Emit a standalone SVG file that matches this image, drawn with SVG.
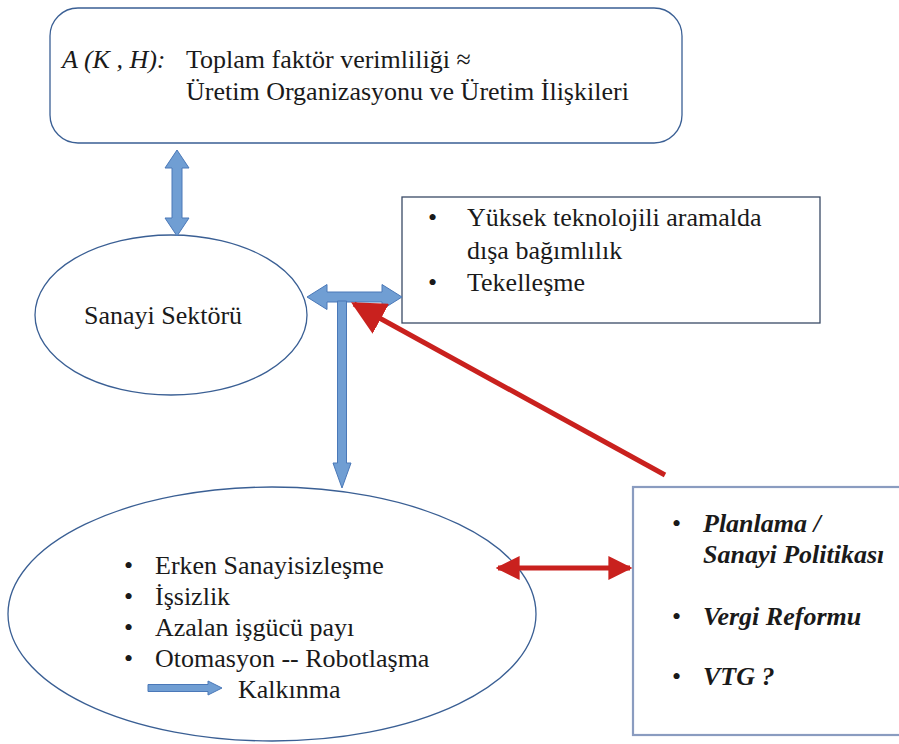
<svg xmlns="http://www.w3.org/2000/svg" width="899" height="744" viewBox="0 0 899 744">
<defs>
<style>
.t{font-family:"Times New Roman",Tinos,"Liberation Serif","Noto Serif",FreeSerif,"DejaVu Serif",serif;font-size:26px;fill:#1a1a1a}
.it{font-style:italic}
.bi{font-style:italic;font-weight:bold}
.node{fill:#fff;stroke:#3a5f94;stroke-width:1.3}
.box2{fill:#fff;stroke:#3a4a66;stroke-width:1.3}
.box3{fill:#fff;stroke:#8a9cc0;stroke-width:2.2}
.blue{fill:#709ed3;stroke:#4a78b8;stroke-width:1}
.red{stroke:#c9211e;stroke-width:5;fill:none}
</style>
<marker id="rh" viewBox="0 0 10 10" refX="9" refY="5" markerUnits="userSpaceOnUse" markerWidth="24" markerHeight="24" orient="auto-start-reverse">
<path d="M0,0 L10,5 L0,10 z" fill="#c9211e"/>
</marker>
<marker id="rhb" viewBox="0 0 10 10" refX="9" refY="5" markerUnits="userSpaceOnUse" markerWidth="34" markerHeight="34" orient="auto">
<path d="M0,0 L10,5 L0,10 z" fill="#c9211e"/>
</marker>
</defs>
<rect width="899" height="744" fill="#fff"/>

<g id="tfp">
<rect class="node" x="50" y="8" width="632" height="135" rx="28"/>
<text class="t it" x="62" y="68">A (K , H):</text>
<text class="t" x="186" y="68">Toplam faktör verimliliği ≈</text>
<text class="t" x="186" y="100">Üretim Organizasyonu ve Üretim İlişkileri</text>
</g>

<g id="sanayi">
<ellipse class="node" cx="171" cy="315" rx="136" ry="80"/>
<text class="t" x="163" y="324" text-anchor="middle">Sanayi Sektörü</text>
</g>

<g id="sorunlar">
<rect class="box2" x="402" y="197" width="418" height="126"/>
<text class="t" x="428" y="226">•</text>
<text class="t" x="467" y="226">Yüksek teknolojili aramalda</text>
<text class="t" x="467" y="259">dışa bağımlılık</text>
<text class="t" x="428" y="291">•</text>
<text class="t" x="467" y="291">Tekelleşme</text>
</g>

<g id="sonuclar">
<ellipse class="node" cx="272" cy="614" rx="264" ry="127"/>
<text class="t" x="124" y="574">•</text>
<text class="t" x="155" y="574">Erken Sanayisizleşme</text>
<text class="t" x="124" y="605">•</text>
<text class="t" x="155" y="605">İşsizlik</text>
<text class="t" x="124" y="636">•</text>
<text class="t" x="155" y="636">Azalan işgücü payı</text>
<text class="t" x="124" y="667">•</text>
<text class="t" x="155" y="667">Otomasyon -- Robotlaşma</text>
<polygon class="blue" points="148,684.5 208,684.5 208,681 222,688 208,695 208,691.5 148,691.5"/>
<text class="t" x="238" y="698">Kalkınma</text>
</g>

<g id="politika">
<rect class="box3" x="633" y="487" width="280" height="248"/>
<text class="t" x="672" y="532">•</text>
<text class="t bi" x="703" y="532">Planlama /</text>
<text class="t bi" x="703" y="563">Sanayi Politikası</text>
<text class="t" x="672" y="625">•</text>
<text class="t bi" x="703" y="625">Vergi Reformu</text>
<text class="t" x="672" y="685">•</text>
<text class="t bi" x="703" y="685">VTG ?</text>
</g>

<g id="connectors">
<polygon class="blue" points="177,150 189,168 182,168 182,218 189,218 177,236 165,218 172,218 172,168 165,168"/>
<polygon class="blue" points="307,297 327,284.5 327,292 382,292 382,284.5 402,297 382,309.5 382,302 327,302 327,309.5"/>
<polygon class="blue" points="337.5,301 346.5,301 346.5,463 351,463 342,488 333,463 337.5,463"/>
<line class="red" x1="665" y1="475" x2="354" y2="304" marker-end="url(#rhb)"/>
<line class="red" x1="498" y1="568" x2="630" y2="568" marker-start="url(#rh)" marker-end="url(#rh)"/>
</g>
</svg>
